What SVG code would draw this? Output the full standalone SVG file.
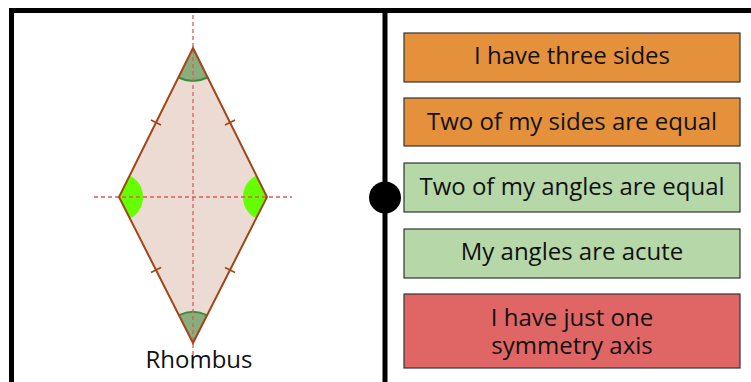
<svg xmlns="http://www.w3.org/2000/svg" width="751" height="382" viewBox="0 0 751 382">
<style>
.frame{stroke:#000;stroke-width:5;fill:none}
.axis{stroke:#e05a5a;stroke-width:1.3;stroke-dasharray:4 3;fill:none}
.side{stroke:#a0461a;stroke-width:2;fill:none;stroke-linecap:round}
.tick{stroke:#a0461a;stroke-width:1.6}
.box{stroke:#333;stroke-width:1.2}
.orange{fill:#e5913c}
.green{fill:#b6d8a9}
.red{fill:#e06666}
.t{font-family:"Open Sans","Noto Sans","DejaVu Sans",sans-serif;font-size:24px;fill:#111;text-anchor:middle}
</style>
<rect width="751" height="382" fill="#fff"/>
<g id="frame">
<path class="frame" d="M11.5 390 V10.5 H760"/>
<line class="frame" x1="385" y1="10" x2="385" y2="390"/>
<circle cx="385" cy="197.5" r="16" fill="#000"/>
</g>
<g id="rhombus">
<polygon points="193,48 267,197 193,343 119,197" fill="#ecdbd2"/>
<path d="M193,48 L178.6,77.5 A33,33 0 0 0 207.4,77.5 Z" fill="#8aad7c"/>
<path d="M178.6,77.5 A33,33 0 0 0 207.4,77.5" fill="none" stroke="#3d8b3d" stroke-width="2"/>
<path d="M193,343 L179.2,315.2 A31,31 0 0 1 206.8,315.2 Z" fill="#8aad7c"/>
<path d="M179.2,315.2 A31,31 0 0 1 206.8,315.2" fill="none" stroke="#3d8b3d" stroke-width="2"/>
<path d="M119,197 L129.7,175.5 A24,24 0 0 1 129.7,218.5 Z" fill="#66ff00"/>
<path d="M267,197 L256.3,175.5 A24,24 0 0 0 256.3,218.5 Z" fill="#66ff00"/>
<line class="axis" x1="193" y1="15" x2="193" y2="370"/>
<line class="axis" x1="94" y1="197" x2="292" y2="197"/>
<polygon class="side" points="193,48 267,197 193,343 119,197"/>
<line class="tick" x1="151" y1="120" x2="161" y2="125"/>
<line class="tick" x1="235" y1="120" x2="225" y2="125"/>
<line class="tick" x1="151" y1="272.5" x2="161" y2="267.5"/>
<line class="tick" x1="235" y1="272.5" x2="225" y2="267.5"/>
<text class="t" x="199" y="368" font-size="23.5">Rhombus</text>
</g>
<g id="box1">
<rect class="box orange" x="404" y="33" width="336" height="49"/>
<text class="t" x="572" y="64">I have three sides</text>
</g>
<g id="box2">
<rect class="box orange" x="404" y="98" width="336" height="48"/>
<text class="t" x="572" y="130">Two of my sides are equal</text>
</g>
<g id="box3">
<rect class="box green" x="404" y="163" width="336" height="49"/>
<text class="t" x="572" y="195">Two of my angles are equal</text>
</g>
<g id="box4">
<rect class="box green" x="404" y="229" width="336" height="49"/>
<text class="t" x="572" y="260">My angles are acute</text>
</g>
<g id="box5">
<rect class="box red" x="404" y="294" width="336" height="74"/>
<text class="t"><tspan x="572" y="326">I have just one</tspan><tspan x="572" y="354">symmetry axis</tspan></text>
</g>
</svg>
